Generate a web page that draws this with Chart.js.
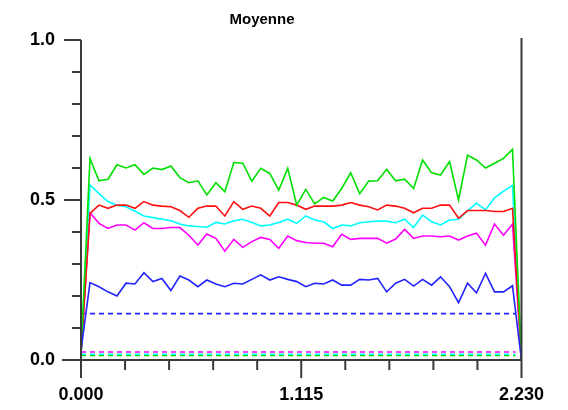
<!DOCTYPE html>
<html>
<head>
<meta charset="utf-8">
<script src="https://cdn.jsdelivr.net/npm/chart.js@4.4.1/dist/chart.umd.min.js"></script>
<style>
  html, body { margin: 0; padding: 0; background: #fff; }
  #wrap { width: 568px; height: 410px; }
</style>
</head>
<body>
<div id="wrap"><canvas id="moyChart" width="568" height="410"></canvas></div>
<script>
// values, one per sample (50 samples from 0 to 2.230)
var green = [0.02, 0.63, 0.56, 0.565, 0.61, 0.60, 0.61, 0.58, 0.60, 0.595, 0.606, 0.57, 0.554,
  0.56, 0.516, 0.554, 0.526, 0.617, 0.615, 0.559, 0.599, 0.583, 0.531, 0.599, 0.484,
  0.533, 0.488, 0.508, 0.497, 0.536, 0.585, 0.52, 0.559, 0.56, 0.596, 0.56, 0.565,
  0.536, 0.625, 0.585, 0.578, 0.62, 0.50, 0.64, 0.625, 0.60, 0.615, 0.63, 0.658, 0.0];
var red = [0.02, 0.458, 0.484, 0.474, 0.484, 0.484, 0.474, 0.495, 0.484, 0.481, 0.479, 0.467, 0.446,
  0.474, 0.481, 0.481, 0.45, 0.495, 0.471, 0.481, 0.474, 0.45, 0.492, 0.492, 0.484,
  0.471, 0.481, 0.481, 0.481, 0.484, 0.492, 0.484, 0.479, 0.469, 0.484, 0.481, 0.474,
  0.46, 0.474, 0.474, 0.484, 0.484, 0.443, 0.467, 0.467, 0.467, 0.464, 0.464, 0.474, 0.0];
var cyan = [0.02, 0.547, 0.52, 0.495, 0.484, 0.479, 0.465, 0.45, 0.445, 0.44, 0.435, 0.425, 0.419,
  0.417, 0.415, 0.43, 0.425, 0.435, 0.44, 0.43, 0.419, 0.422, 0.43, 0.44, 0.427,
  0.45, 0.4375, 0.432, 0.411, 0.422, 0.419, 0.429, 0.432, 0.434, 0.434, 0.429, 0.44,
  0.414, 0.453, 0.432, 0.422, 0.4375, 0.44, 0.466, 0.49, 0.469, 0.507, 0.528, 0.545, 0.0];
var magenta = [0.02, 0.46, 0.427, 0.411, 0.422, 0.422, 0.406, 0.429, 0.411, 0.411, 0.414, 0.414, 0.39,
  0.359, 0.394, 0.38, 0.34, 0.377, 0.352, 0.37, 0.383, 0.377, 0.349, 0.3875, 0.373,
  0.367, 0.365, 0.365, 0.354, 0.393, 0.377, 0.38, 0.38, 0.38, 0.365, 0.378, 0.408,
  0.38, 0.3875, 0.3875, 0.385, 0.3875, 0.375, 0.3875, 0.396, 0.359, 0.425, 0.39, 0.425, 0.0];
var blue = [0.03, 0.242, 0.229, 0.213, 0.20, 0.24, 0.2375, 0.273, 0.245, 0.255, 0.217, 0.2625, 0.25,
  0.229, 0.25, 0.2375, 0.229, 0.24, 0.2375, 0.252, 0.266, 0.25, 0.26, 0.252, 0.245,
  0.229, 0.24, 0.2375, 0.25, 0.234, 0.234, 0.252, 0.25, 0.255, 0.213, 0.24, 0.252,
  0.231, 0.252, 0.234, 0.26, 0.229, 0.179, 0.24, 0.21, 0.271, 0.213, 0.213, 0.232, 0.0];

// dashed reference levels
var blueLevel = 0.145;
var magentaLevel = 0.025;
var cyanLevel = 0.018;
var greenLevel = 0.014;
var levelSpan = [0, 2.2];

var xTickLabels = ["0.000", "1.115", "2.230"];
var yTickLabels = ["0.0", "0.5", "1.0"];
var xMax = 2.23;

var step = xMax / (green.length - 1);
var xs = green.map(function(v, i) { return +(i * step).toFixed(4); });

function pts(vals) {
  return vals.map(function(v, i) { return { x: xs[i], y: v }; });
}
function level(v) {
  return levelSpan.map(function(x) { return { x: x, y: v }; });
}

var axisColor = "#3a3a3a";
var labelFont = { family: "'Liberation Sans', Arial, sans-serif", size: 18, weight: "bold" };

// axes, tick marks and title like the original plot
var frame = {
  id: "frame",
  afterDraw: function(chart) {
    var ctx = chart.ctx, a = chart.chartArea;
    var xs_ = chart.scales.x, ys_ = chart.scales.y;
    ctx.save();
    ctx.strokeStyle = axisColor;
    ctx.lineWidth = 2;
    ctx.beginPath();
    ctx.moveTo(a.left, a.top); ctx.lineTo(a.left, a.bottom + 18);
    ctx.moveTo(a.right, a.top - 2); ctx.lineTo(a.right, a.bottom + 18);
    ctx.moveTo(a.left - 19, a.bottom); ctx.lineTo(a.right, a.bottom);
    for (var i = 0; i <= 10; i++) {
      var py = ys_.getPixelForValue(i / 10);
      var len = (i % 5 === 0) ? 17 : 9;
      ctx.moveTo(a.left - len, py); ctx.lineTo(a.left, py);
      var px = xs_.getPixelForValue(i * xMax / 10);
      var dl = (i % 5 === 0) ? 18 : 10;
      ctx.moveTo(px, a.bottom); ctx.lineTo(px, a.bottom + dl);
    }
    ctx.stroke();
    // title
    ctx.fillStyle = "#000";
    ctx.font = "bold 15px 'Liberation Sans', Arial, sans-serif";
    ctx.textAlign = "center";
    ctx.textBaseline = "middle";
    ctx.fillText("Moyenne", 262, 20);
    ctx.restore();
  }
};

function solid(label, color, vals) {
  return { label: label, data: pts(vals), borderColor: color, borderWidth: 1.6,
           pointRadius: 0, fill: false, tension: 0 };
}
function dashed(label, color, v) {
  return { label: label, data: level(v), borderColor: color, borderWidth: 1.6,
           borderDash: [5, 4], pointRadius: 0, fill: false };
}

var chart = new Chart(document.getElementById("moyChart"), {
  type: "line",
  data: {
    datasets: [
      solid("blue", "#2222ff", blue),
      solid("green", "#00e000", green),
      solid("red", "#ff1010", red),
      solid("cyan", "#00ffff", cyan),
      solid("magenta", "#ff00ff", magenta),
      dashed("blue level", "#2222ff", blueLevel),
      dashed("magenta level", "#ff00ff", magentaLevel),
      dashed("cyan level", "#00ffff", cyanLevel),
      dashed("green level", "#00e000", greenLevel)
    ]
  },
  options: {
    responsive: false,
    animation: false,
    layout: { padding: { top: 40, right: 46, left: 0, bottom: 0 } },
    plugins: { legend: { display: false }, tooltip: { enabled: false } },
    scales: {
      x: {
        type: "linear", min: 0, max: xMax,
        grid: { display: false, drawTicks: false },
        border: { display: false },
        afterBuildTicks: function(s) {
          s.ticks = xTickLabels.map(function(t) { return { value: parseFloat(t) }; });
        },
        afterFit: function(s) { s.height = 50; },
        ticks: {
          padding: 24, color: "#000", font: labelFont, maxRotation: 0, autoSkip: false,
          callback: function(v) { return xTickLabels[xTickLabels.map(parseFloat).indexOf(v)]; }
        }
      },
      y: {
        min: 0, max: 1,
        grid: { display: false, drawTicks: false },
        border: { display: false },
        afterBuildTicks: function(s) {
          s.ticks = yTickLabels.map(function(t) { return { value: parseFloat(t) }; });
        },
        afterFit: function(s) { s.width = 81; },
        ticks: {
          padding: 26, color: "#000", font: labelFont, autoSkip: false,
          callback: function(v) { return yTickLabels[yTickLabels.map(parseFloat).indexOf(v)]; }
        }
      }
    }
  },
  plugins: [frame]
});
</script>
</body>
</html>
